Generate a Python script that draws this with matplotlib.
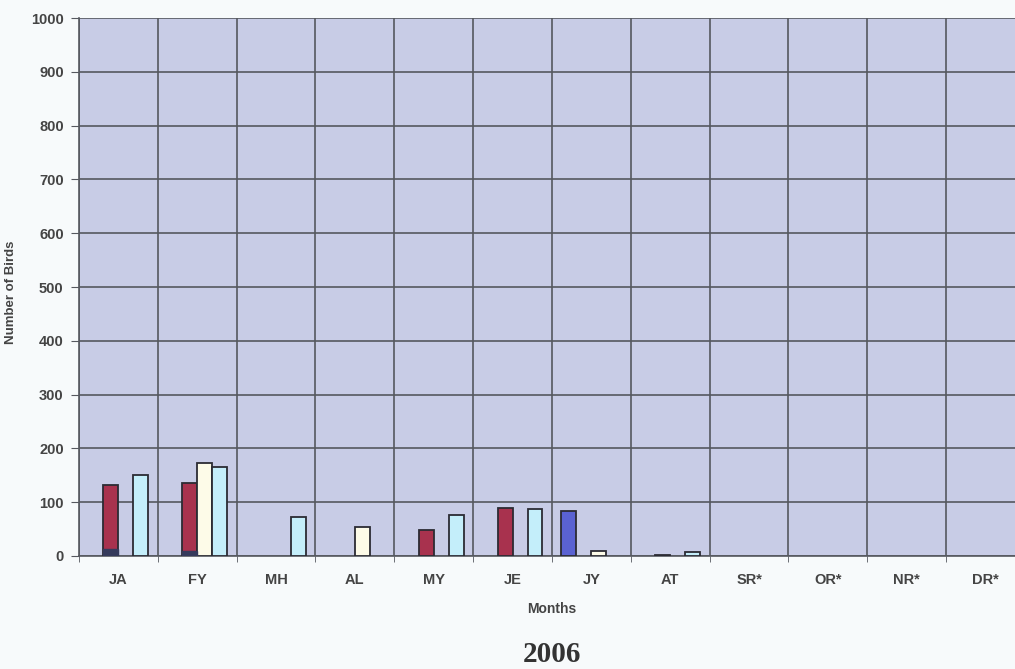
import numpy as np
import matplotlib
matplotlib.use("Agg")
import matplotlib.pyplot as plt

# data
months = ['JA', 'FY', 'MH', 'AL', 'MY', 'JE', 'JY', 'AT', 'SR*', 'OR*', 'NR*', 'DR*']
blue = [0, 0, 0, 0, 0, 0, 84, 0, 0, 0, 0, 0]
maroon = [132, 135, 0, 0, 48, 90, 0, 2, 0, 0, 0, 0]
navy = [12, 9, 0, 0, 0, 0, 0, 0, 0, 0, 0, 0]
cream = [0, 173, 0, 54, 0, 0, 10, 0, 0, 0, 0, 0]
cyan = [150, 165, 72, 0, 76, 88, 0, 7, 0, 0, 0, 0]

plt.rcParams['font.family'] = ['Liberation Sans', 'DejaVu Sans']

fig = plt.figure(figsize=(10.15, 6.69), dpi=100, facecolor='#f7fafb')
ax = fig.add_axes([0.0778, 0.169, 0.932, 0.804])
ax.set_facecolor('#c8cce6')

x = np.arange(len(months))
w = 0.19
edge = dict(edgecolor='#2b2b33', linewidth=1.3, zorder=3)


def nz(vals):
    # leave out empty bars so they don't leave a flat outline
    return np.ma.masked_equal(np.array(vals, dtype=float), 0)


ax.bar(x - 1.5 * w, nz(blue), w, color='#5a62d2', **edge)
ax.bar(x - 0.5 * w, nz(maroon), w, color='#a8324e', **edge)
ax.bar(x - 0.5 * w, nz(navy), w, color='#353a5c', edgecolor='#353a5c', linewidth=1.0, zorder=4)
ax.bar(x + 0.5 * w, nz(cream), w, color='#fdfbe8', **edge)
ax.bar(x + 1.5 * w, nz(cyan), w, color='#c4eefa', **edge)

ax.set_xlim(-0.5, len(months) - 0.5)
ax.set_ylim(0, 1000)
ax.set_yticks(np.arange(0, 1001, 100))
ax.set_xticks(x)
ax.set_xticklabels(months)
ax.set_xticks(np.arange(-0.5, len(months), 1), minor=True)

ax.grid(True, which='major', axis='y', color='#55585f', linewidth=1.2, zorder=1)
ax.grid(True, which='minor', axis='x', color='#55585f', linewidth=1.2, zorder=1)
ax.set_axisbelow(True)

for s in ['top', 'right']:
    ax.spines[s].set_visible(False)
ax.spines['left'].set_color('#55585f')
ax.spines['bottom'].set_color('#55585f')
ax.spines['left'].set_linewidth(1.2)
ax.spines['bottom'].set_linewidth(1.2)

ax.tick_params(axis='y', which='major', length=6, color='#55585f', labelsize=10.5,
               labelcolor='#444444', pad=5)
ax.tick_params(axis='x', which='major', length=0, labelsize=10.5, labelcolor='#444444', pad=12)
ax.tick_params(axis='x', which='minor', length=4, color='#55585f')
for lab in ax.get_xticklabels() + ax.get_yticklabels():
    lab.set_fontweight('bold')

ax.set_ylabel('Number of Birds', fontsize=9.5, fontweight='bold', color='#444444')
ax.yaxis.set_label_coords(-0.065, 0.49)
ax.set_xlabel('Months', fontsize=10, fontweight='bold', color='#444444', labelpad=11)

fig.text(0.544, 0.022, '2006', ha='center', va='center', fontsize=21, fontweight='bold',
         family=['Liberation Serif', 'DejaVu Serif'], color='#333333')

fig.savefig('out.png', dpi=100, facecolor=fig.get_facecolor())
